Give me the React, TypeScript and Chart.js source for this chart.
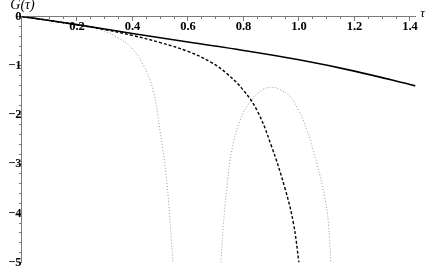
import React, { useEffect, useRef } from 'react';
import { Chart, registerables } from 'chart.js';
Chart.register(...registerables);

// Solid curve
const solidTau = [0, 0.2, 0.4, 0.6, 0.8, 1.0, 1.2, 1.42];
const solidG = [0, -0.165, -0.345, -0.52, -0.69, -0.88, -1.11, -1.41];

// Dashed curve
const dashedTau = [0, 0.1, 0.2, 0.3, 0.4, 0.5, 0.6, 0.68, 0.74, 0.8, 0.85, 0.9, 0.95, 0.98, 1.0];
const dashedG = [0, -0.08, -0.17, -0.265, -0.385, -0.53, -0.71, -0.92, -1.16, -1.5, -1.92, -2.62, -3.5, -4.2, -5];

// Dotted curve (left branch)
const dotATau = [0, 0.1, 0.2, 0.25, 0.3, 0.35, 0.4, 0.44, 0.474, 0.5, 0.524, 0.546];
const dotAG = [0, -0.08, -0.17, -0.22, -0.3, -0.44, -0.66, -1.0, -1.49, -2.35, -3.38, -5];

// Dotted curve (arch)
const dotBTau = [0.719, 0.728, 0.74, 0.757, 0.787, 0.823, 0.86, 0.896, 0.93, 0.968, 1.0, 1.028, 1.064, 1.094, 1.106, 1.115];
const dotBG = [-5, -4.2, -3.5, -2.75, -2.12, -1.74, -1.52, -1.44, -1.48, -1.63, -1.92, -2.3, -2.98, -3.7, -4.2, -5];

const xMin = 0;
const xMax = 1.42;
const yMin = -5;
const yMax = 0;
const xMajorStep = 0.2;
const xMinorStep = 0.05;
const yMajorStep = 1;
const yMinorStep = 0.2;

const pts = (xs: number[], ys: number[]) => xs.map((x, i) => ({ x, y: ys[i] }));

export default function App() {
  const ref = useRef<HTMLCanvasElement>(null);
  useEffect(() => {
    const canvas = ref.current!;
    const axisColor = '#7a7a7a';
    const font = { family: '"Liberation Serif", serif', size: 12.5, weight: 'bold' as const };
    const zeroH = (s: any) => { s.height = 0; };
    const zeroW = (s: any) => { s.width = 0; };
    const titles = {
      id: 'titles',
      afterDraw(chart: any) {
        const { ctx } = chart;
        const x = chart.scales.x;
        const y = chart.scales.y;
        ctx.save();
        ctx.fillStyle = '#000';
        ctx.textAlign = 'center';
        ctx.textBaseline = 'middle';
        ctx.font = 'italic 14px "Liberation Serif", serif';
        ctx.fillText('G(τ)', x.getPixelForValue(0) + 1, y.getPixelForValue(0) - 11);
        ctx.font = 'italic 13px "Liberation Serif", serif';
        ctx.fillText('τ', x.getPixelForValue(xMax) + 7, y.getPixelForValue(0) - 3);
        ctx.restore();
      },
    };
    const chart = new Chart(canvas, {
      type: 'line',
      data: {
        datasets: [
          { data: pts(solidTau, solidG), borderColor: '#000', borderWidth: 1.6, tension: 0.4 },
          { data: pts(dashedTau, dashedG), borderColor: '#000', borderWidth: 1.4, borderDash: [3, 2], tension: 0.4 },
          { data: pts(dotATau, dotAG), borderColor: '#999', borderWidth: 1, borderDash: [1, 2], tension: 0.4 },
          { data: pts(dotBTau, dotBG), borderColor: '#999', borderWidth: 1, borderDash: [1, 2], tension: 0.4 },
        ],
      },
      options: {
        responsive: false,
        animation: false,
        layout: { padding: { left: 21.5, top: 16.5, right: 20.5, bottom: 13.5 } },
        plugins: { legend: { display: false }, tooltip: { enabled: false } },
        elements: { point: { radius: 0 } },
        scales: {
          x: {
            type: 'linear', min: xMin, max: xMax, position: { y: 0 }, afterFit: zeroH,
            grid: { drawOnChartArea: false, tickLength: 4, color: axisColor },
            border: { color: axisColor },
            ticks: {
              stepSize: xMajorStep, includeBounds: false, autoSkip: false, maxRotation: 0, padding: -1,
              color: '#000', font,
              callback: (v: any) => (Math.abs(v) < 1e-9 ? '' : Number(v).toFixed(1)),
            },
          },
          x2: {
            type: 'linear', min: xMin, max: xMax, position: { y: 0 }, afterFit: zeroH,
            grid: { drawOnChartArea: false, tickLength: 2, color: axisColor },
            border: { color: axisColor },
            ticks: { stepSize: xMinorStep, includeBounds: false, autoSkip: false, callback: () => '' },
          },
          y: {
            type: 'linear', min: yMin, max: yMax, position: { x: 0 }, afterFit: zeroW,
            grid: { drawOnChartArea: false, tickLength: 4, color: axisColor },
            border: { color: axisColor },
            ticks: {
              stepSize: yMajorStep, includeBounds: false, autoSkip: false, padding: 3,
              color: '#000', font,
              callback: (v: any) => (v === 0 ? '0' : '\u2212' + Math.abs(v)),
            },
          },
          y2: {
            type: 'linear', min: yMin, max: yMax, position: { x: 0 }, afterFit: zeroW,
            grid: { drawOnChartArea: false, tickLength: 2, color: axisColor },
            border: { color: axisColor },
            ticks: { stepSize: yMinorStep, includeBounds: false, autoSkip: false, callback: () => '' },
          },
        },
      } as any,
      plugins: [titles],
    });
    return () => chart.destroy();
  }, []);
  return (
    <div style={{ position: 'fixed', left: 0, top: 0, width: 436, height: 276, background: '#fff' }}>
      <canvas ref={ref} width={436} height={276} />
    </div>
  );
}
